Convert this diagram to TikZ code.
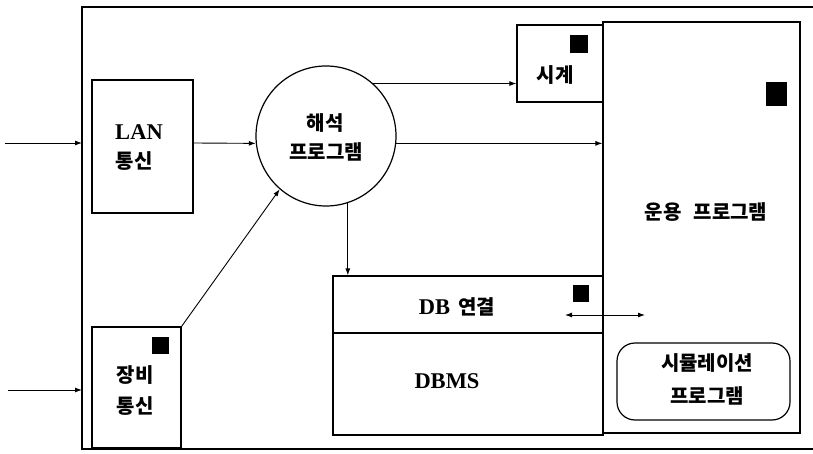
\documentclass[tikz,border=0pt]{standalone}
\usepackage{fontspec}
\setmainfont{Liberation Serif}
\newfontfamily\kr{Noto Sans CJK KR}
\usetikzlibrary{arrows.meta}
\begin{document}
\begin{tikzpicture}[x=1pt,y=-1pt,
  box/.style={draw,line width=1.2pt,inner sep=0pt},
  wire/.style={line width=0.9pt},
  tip/.style={-{Latex[length=7pt,width=5pt]}},
  dtip/.style={{Latex[length=7pt,width=5pt]}-{Latex[length=7pt,width=5pt]}},
  lat/.style={font=\fontsize{22.5}{26}\selectfont\bfseries,inner sep=0pt},
  kor/.style={font=\kr\bfseries\fontsize{20}{24}\selectfont,inner sep=0pt},
  blk/.style={fill=black,inner sep=0pt}]
\useasboundingbox (0,0) rectangle (813,454);
% outer frame
\draw[line width=1.2pt] (813,7) -- (82,7) -- (82,449) -- (813,449);
\coordinate (s1) at (5,143);
\coordinate (f1) at (82,143);
\coordinate (s2) at (8,390);
\coordinate (f2) at (82,390);
% boxes
\node[box,minimum width=101pt,minimum height=133pt] (lan) at (142.5,146.5) {};
\node[box,minimum width=89pt,minimum height=121pt] (dev) at (136.5,387.5) {};
\node[box,circle,minimum size=140pt] (circ) at (326,136) {};
\node[box,minimum width=86pt,minimum height=77pt] (clk) at (560,63.5) {};
\node[box,minimum width=197pt,minimum height=411pt] (app) at (701.5,227.5) {};
\node[box,minimum width=270pt,minimum height=57pt] (dbl) at (468,304.5) {};
\node[box,minimum width=270pt,minimum height=102pt] (dbms) at (468,384) {};
\node[box,rounded corners=18pt,minimum width=173pt,minimum height=77pt] (sim) at (703.5,381.5) {};
% black squares
\node[blk,minimum width=18pt,minimum height=18pt] (clksq) at (579,44) {};
\node[blk,minimum width=21pt,minimum height=24pt] (appsq) at (776.5,94) {};
\node[blk,minimum width=16pt,minimum height=17pt] (dbsq) at (581,293.5) {};
\node[blk,minimum width=17pt,minimum height=17pt] (devsq) at (160.5,345.5) {};
% texts
\node[lat] (t1) at (139,132) {LAN};
\node[kor] (t2) at (134,161) {통신};
\node[kor] (t3) at (325,123) {해석};
\node[kor] (t4) at (326,152) {프로그램};
\node[kor] (t5) at (555,75) {시계};
\node[kor] (t6) at (706,212) {운용\hspace{12pt}프로그램};
\node[lat] (t7) at (457,307) {DB\hspace{8pt}{\kr\fontsize{20}{24}\selectfont 연결}};
\node[lat] (t8) at (447,381) {DBMS};
\node[kor] (t9) at (707,363) {시뮬레이션};
\node[kor] (t10) at (707,396) {프로그램};
\node[kor] (t11) at (135,375) {장비};
\node[kor] (t12) at (135,406) {통신};
% connectors
\draw[wire,tip] (s1) -- (f1);
\draw[wire,tip] (s2) -- (f2);
\draw[wire,tip] (lan.east |- f1) -- (circ.186);
\draw[wire,tip] (circ.48) -- (circ.48 -| clk.west);
\draw[wire,tip] (circ.-6) -- (circ.-6 -| app.west);
\draw[wire,tip] (circ.-72.5) -- (circ.-72.5 |- dbl.north);
\draw[wire,tip] (dev.north east) -- (circ.229);
\coordinate (d1) at (565,315);
\coordinate (d2) at (645,315);
\draw[wire,dtip] (d1) -- (d2);
\end{tikzpicture}
\end{document}
